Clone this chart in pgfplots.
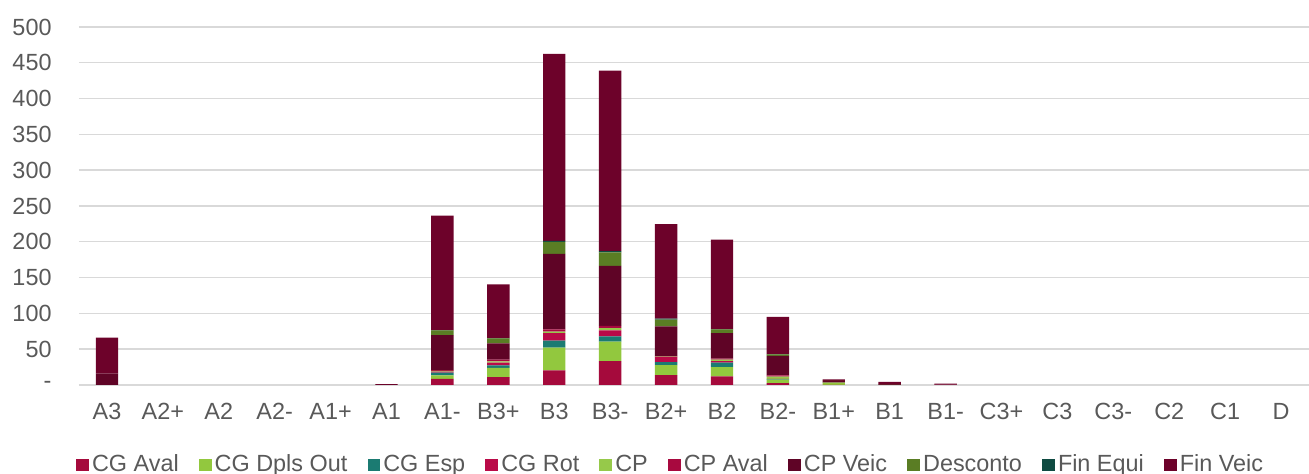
\documentclass[border=0pt]{standalone}
\usepackage{pgfplots}
\pgfplotsset{compat=1.18}
\usepackage{pgfplotstable}
\usepackage{fontspec}
\setmainfont{Liberation Sans}
\definecolor{cgaval}{HTML}{A50A3C}
\definecolor{cgdpls}{HTML}{92C83E}
\definecolor{cgesp}{HTML}{1B7B72}
\definecolor{cgrot}{HTML}{BA0A48}
\definecolor{cp}{HTML}{96C94A}
\definecolor{cpaval}{HTML}{A8093F}
\definecolor{cpveic}{HTML}{5F0426}
\definecolor{desc}{HTML}{5A7D24}
\definecolor{finequi}{HTML}{0F4B42}
\definecolor{finveic}{HTML}{6D022A}
\definecolor{gridgray}{HTML}{D9D9D9}
\definecolor{textgray}{HTML}{595959}
\pgfplotsset{sqleg/.style={legend image code/.code={\fill[##1] (0pt,-3.15pt) rectangle (6.3pt,3.15pt);}}}
\pgfplotstableread{
x cgaval cgdpls cgesp cgrot cp cpaval cpveic desc finequi finveic
0 0 0 0 0 0 0 16 0 0 50
1 0 0 0 0 0 0 0 0 0 0
2 0 0 0 0 0 0 0 0 0 0
3 0 0 0 0 0 0 0 0 0 0
4 0 0 0 0 0 0 0 0 0 0
5 0 0 0 0 0 0 0.3 0 0 0.8
6 8.6 4.7 3.8 1.5 1 1.2 49 6.5 0.3 160
7 11 13 3.3 3.8 2 2.2 22.8 7 0.4 75
8 20.3 31.8 9.8 10.7 1.9 3.2 105.5 16.8 1.4 261
9 33.4 27.1 7.4 8.4 3.3 2.8 84 18.7 1.9 252
10 13.8 14 4.2 7 0.7 0.7 41.6 9.3 1.4 132
11 11.9 13 6.2 2.2 2 1.4 35.9 5.1 0.5 125
12 2.6 5 0.5 0.5 3 2 27 2.3 0.3 51.8
13 0.3 2.5 0 0 0.5 0 2 0.3 0 2.4
14 0 0.3 0 0 0 0 1 0 0 3.1
15 0 0 0 0.3 0 0 0.2 0 0 1.5
16 0 0 0 0 0 0 0 0 0 0
17 0 0 0 0 0 0 0 0 0 0
18 0 0 0 0 0 0 0 0 0 0
19 0 0 0 0 0 0 0 0 0 0
20 0 0 0 0 0 0 0 0 0 0
21 0 0 0 0 0 0 0 0 0 0
}\datatable
\begin{document}
\begin{tikzpicture}
\begin{axis}[
  scale only axis, width=615pt, height=179pt,
  xmin=-0.5, xmax=21.5, ymin=0, ymax=500,
  ybar stacked, bar width=11.2pt,
  xtick={0,...,21},
  xticklabels={A3,A2+,A2,A2-,A1+,A1,A1-,B3+,B3,B3-,B2+,B2,B2-,B1+,B1,B1-,C3+,C3,C3-,C2,C1,D},
  ytick={0,50,...,500},
  yticklabels={{-},{50},{100},{150},{200},{250},{300},{350},{400},{450},{500}},
  ymajorgrids, grid style={color=gridgray, line width=0.7pt},
  axis line style={draw=none}, major tick length=0pt,
  tick label style={text=textgray, font=\fontsize{11.7}{14}\selectfont},
  yticklabel style={xshift=-10.2pt},
  xticklabel style={yshift=-5.8pt},
  legend columns=-1,
  legend style={draw=none, fill=none, at={(axis description cs:0.4815,-0.2235)}, anchor=center,
    font=\fontsize{11.7}{14}\selectfont, text=textgray,
    nodes={inner sep=1.6pt},
    /tikz/every even column/.append style={column sep=8.5pt}},
]
\addplot[fill=cgaval, draw=none, sqleg] table[x=x, y=cgaval]{\datatable};
\addlegendentry{CG Aval}
\addplot[fill=cgdpls, draw=none, sqleg] table[x=x, y=cgdpls]{\datatable};
\addlegendentry{CG Dpls Out}
\addplot[fill=cgesp, draw=none, sqleg] table[x=x, y=cgesp]{\datatable};
\addlegendentry{CG Esp}
\addplot[fill=cgrot, draw=none, sqleg] table[x=x, y=cgrot]{\datatable};
\addlegendentry{CG Rot}
\addplot[fill=cp, draw=none, sqleg] table[x=x, y=cp]{\datatable};
\addlegendentry{CP}
\addplot[fill=cpaval, draw=none, sqleg] table[x=x, y=cpaval]{\datatable};
\addlegendentry{CP Aval}
\addplot[fill=cpveic, draw=none, sqleg] table[x=x, y=cpveic]{\datatable};
\addlegendentry{CP Veic}
\addplot[fill=desc, draw=none, sqleg] table[x=x, y=desc]{\datatable};
\addlegendentry{Desconto}
\addplot[fill=finequi, draw=none, sqleg] table[x=x, y=finequi]{\datatable};
\addlegendentry{Fin Equi}
\addplot[fill=finveic, draw=none, sqleg] table[x=x, y=finveic]{\datatable};
\addlegendentry{Fin Veic}
\coordinate (SW) at (rel axis cs:0,0);
\coordinate (NE) at (rel axis cs:1,1);
\end{axis}
\pgfresetboundingbox
\path[use as bounding box] ([xshift=-39.5pt,yshift=-44.25pt]SW) rectangle ([yshift=13.5pt]NE);
\end{tikzpicture}
\end{document}
